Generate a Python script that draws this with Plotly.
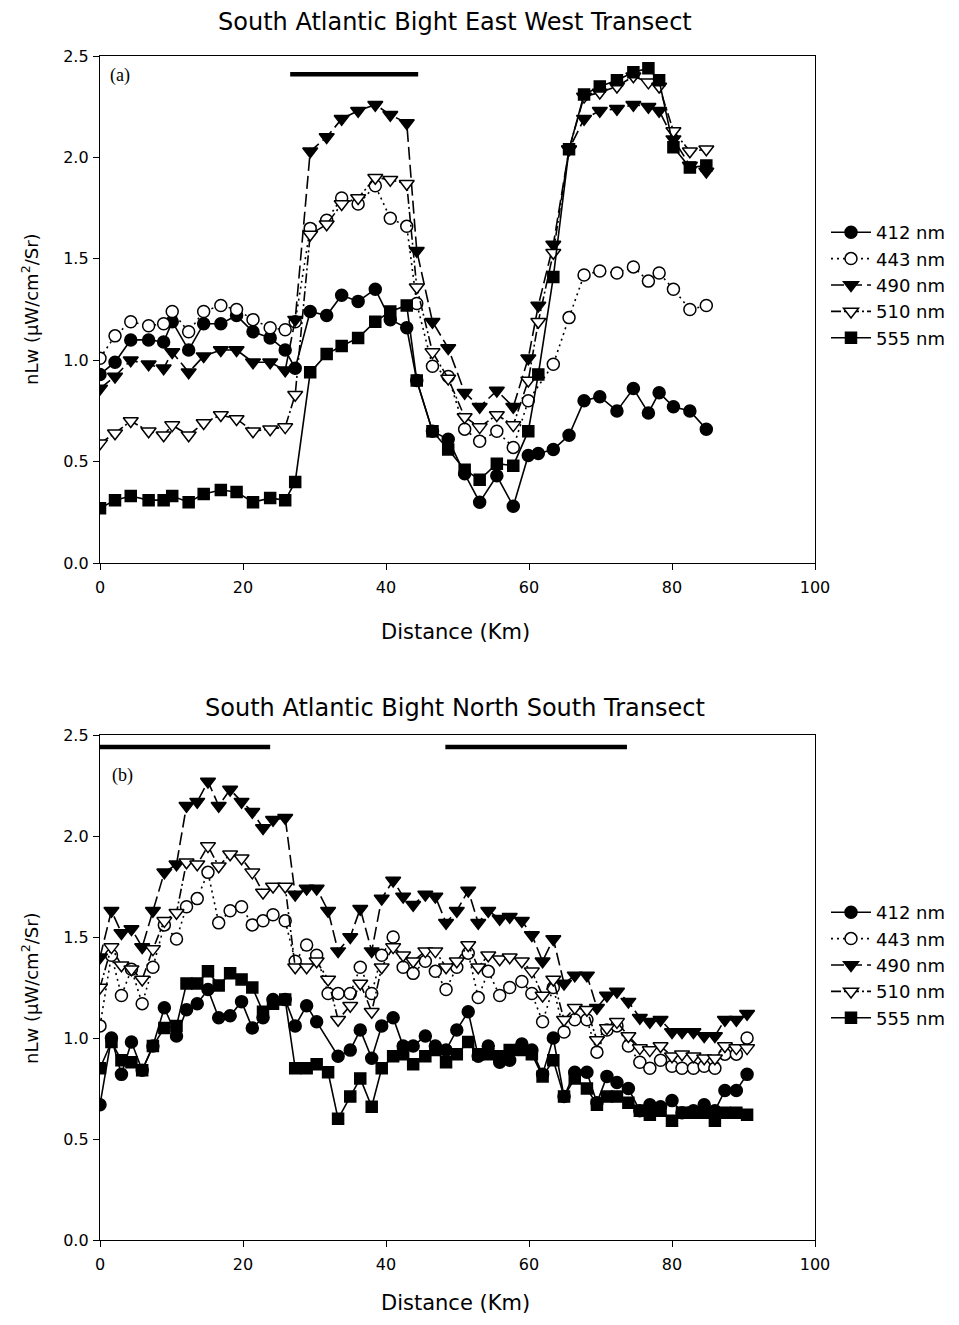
import plotly.graph_objects as go

# ---------------- data: top panel (East-West transect) ----------------
x_top = [0, 2.1, 4.3, 6.8, 8.9, 10.1, 12.4, 14.5, 16.9, 19.1, 21.4, 23.8, 25.9, 27.3,
         29.4, 31.7, 33.8, 36.1, 38.5, 40.6, 42.9,
         44.3, 46.5, 48.7, 51.0, 53.1, 55.5, 57.8,
         59.9, 61.3, 63.4, 65.6, 67.7, 69.9, 72.3, 74.6, 76.7, 78.2, 80.2, 82.5, 84.8]
top_412 = [0.93, 0.99, 1.10, 1.10, 1.09, 1.19, 1.05, 1.18, 1.18, 1.22, 1.14, 1.11, 1.05, 0.96,
           1.24, 1.22, 1.32, 1.29, 1.35, 1.20, 1.16,
           0.90, 0.65, 0.61, 0.44, 0.30, 0.43, 0.28,
           0.53, 0.54, 0.56, 0.63, 0.80, 0.82, 0.75, 0.86, 0.74, 0.84, 0.77, 0.75, 0.66]
top_443 = [1.01, 1.12, 1.19, 1.17, 1.18, 1.24, 1.14, 1.24, 1.27, 1.25, 1.20, 1.16, 1.15, 1.19,
           1.65, 1.69, 1.80, 1.77, 1.86, 1.70, 1.66,
           1.28, 0.97, 0.92, 0.66, 0.60, 0.65, 0.57,
           0.80, None, 0.98, 1.21, 1.42, 1.44, 1.43, 1.46, 1.39, 1.43, 1.35, 1.25, 1.27]
top_490 = [0.86, 0.92, 1.00, 0.98, 0.96, 1.04, 0.94, 1.02, 1.05, 1.05, 0.99, 0.99, 0.95, 1.20,
           2.03, 2.10, 2.19, 2.23, 2.26, 2.21, 2.17,
           1.54, 1.19, 1.06, 0.84, 0.77, 0.85, 0.77,
           1.01, 1.27, 1.57, 2.04, 2.19, 2.23, 2.24, 2.26, 2.25, 2.23, 2.09, 1.96, 1.93]
top_510 = [0.59, 0.64, 0.70, 0.65, 0.63, 0.68, 0.63, 0.69, 0.73, 0.71, 0.65, 0.66, 0.67, 0.83,
           1.62, 1.67, 1.77, 1.80, 1.90, 1.89, 1.87,
           1.36, 1.04, 0.91, 0.72, 0.67, 0.73, 0.68,
           0.90, 1.19, 1.53, 2.04, 2.30, 2.32, 2.35, 2.40, 2.37, 2.35, 2.13, 2.03, 2.04]
top_555 = [0.27, 0.31, 0.33, 0.31, 0.31, 0.33, 0.30, 0.34, 0.36, 0.35, 0.30, 0.32, 0.31, 0.40,
           0.94, 1.03, 1.07, 1.11, 1.19, 1.24, 1.27,
           0.90, 0.65, 0.56, 0.46, 0.41, 0.49, 0.48,
           0.65, 0.93, 1.41, 2.04, 2.31, 2.35, 2.38, 2.42, 2.44, 2.38, 2.05, 1.95, 1.96]

# ---------------- data: bottom panel (North-South transect) ----------------
x_bot = [0, 1.6, 3.0, 4.4, 5.9, 7.4, 9.0, 10.7, 12.1, 13.6,
         15.1, 16.6, 18.2, 19.8, 21.3, 22.8, 24.2, 25.9, 27.3, 28.9,
         30.3, 31.9, 33.3, 35.0, 36.4, 38.0, 39.4, 41.0, 42.4, 43.8,
         45.5, 46.9, 48.4, 49.9, 51.5, 52.9, 54.3, 55.9, 57.3, 59.0,
         60.4, 61.9, 63.4, 64.9, 66.4, 68.1, 69.5, 70.9, 72.3, 73.9,
         75.5, 76.9, 78.4, 80.0, 81.4, 83.0, 84.5, 86.0, 87.4, 89.0, 90.5]
bot_412 = [0.67, 1.00, 0.82, 0.98, 0.84, 0.96, 1.15, 1.01, 1.14, 1.17,
           1.24, 1.10, 1.11, 1.18, 1.05, 1.10, 1.19, 1.19, 1.06, 1.16,
           1.08, None, 0.91, 0.94, 1.04, 0.90, 1.06, 1.10, 0.96, 0.96,
           1.01, 0.96, 0.94, 1.04, 1.13, 0.91, 0.96, 0.88, 0.89, 0.97,
           0.94, 0.82, 1.00, 0.71, 0.83, 0.83, 0.68, 0.81, 0.78, 0.75,
           0.64, 0.67, 0.66, 0.69, 0.63, 0.64, 0.67, 0.64, 0.74, 0.74, 0.82]
bot_443 = [1.06, 1.41, 1.21, 1.34, 1.17, 1.35, 1.56, 1.49, 1.65, 1.69,
           1.82, 1.57, 1.63, 1.65, 1.56, 1.58, 1.61, 1.58, 1.38, 1.46,
           1.41, 1.22, 1.22, 1.22, 1.35, 1.22, 1.41, 1.50, 1.35, 1.32,
           1.38, 1.33, 1.24, 1.35, 1.42, 1.20, 1.33, 1.21, 1.25, 1.28,
           1.22, 1.08, 1.25, 1.03, 1.09, 1.09, 0.93, 1.04, 1.06, 0.96,
           0.88, 0.85, 0.89, 0.86, 0.85, 0.85, 0.86, 0.85, 0.92, 0.92, 1.00]
bot_490 = [1.40, 1.63, 1.52, 1.54, 1.45, 1.63, 1.82, 1.86, 2.15, 2.17,
           2.27, 2.15, 2.23, 2.17, 2.12, 2.04, 2.08, 2.09, 1.71, 1.74,
           1.74, 1.63, 1.43, 1.50, 1.64, 1.43, 1.69, 1.78, 1.70, 1.66,
           1.71, 1.70, 1.57, 1.63, 1.73, 1.57, 1.63, 1.59, 1.60, 1.58,
           1.51, 1.38, 1.49, 1.27, 1.31, 1.31, 1.15, 1.21, 1.23, 1.18,
           1.10, 1.08, 1.09, 1.03, 1.03, 1.03, 1.01, 1.01, 1.09, 1.09, 1.12]
bot_510 = [1.25, 1.45, 1.36, 1.34, 1.29, 1.44, 1.58, 1.62, 1.87, 1.86,
           1.95, 1.85, 1.91, 1.89, 1.82, 1.72, 1.75, 1.75, 1.35, 1.35,
           1.38, 1.29, 1.09, 1.16, 1.27, 1.13, 1.35, 1.45, 1.41, 1.38,
           1.43, 1.43, 1.35, 1.38, 1.46, 1.35, 1.41, 1.39, 1.40, 1.38,
           1.33, 1.21, 1.29, 1.09, 1.15, 1.14, 0.99, 1.05, 1.08, 1.01,
           0.95, 0.94, 0.96, 0.91, 0.92, 0.91, 0.90, 0.90, 0.96, 0.95, 0.95]
bot_555 = [0.85, 0.98, 0.89, 0.88, 0.84, 0.96, 1.05, 1.06, 1.27, 1.27,
           1.33, 1.26, 1.32, 1.29, 1.25, 1.13, 1.17, 1.19, 0.85, 0.85,
           0.87, 0.83, 0.60, 0.71, 0.80, 0.66, 0.85, 0.91, 0.92, 0.87,
           0.91, 0.94, 0.88, 0.92, 0.98, 0.92, 0.92, 0.91, 0.94, 0.94,
           0.92, 0.81, 0.89, 0.71, 0.80, 0.75, 0.67, 0.71, 0.71, 0.68,
           0.64, 0.62, 0.64, 0.59, 0.63, 0.63, 0.63, 0.59, 0.63, 0.63, 0.62]

# horizontal bars marking frontal zones (km ranges, level)
bar_top_ranges = [(26.6, 44.5)]
bar_top_level = 2.41
bar_bot_ranges = [(0.0, 23.8), (48.3, 73.7)]
bar_bot_level = 2.44

series_names = ["412 nm", "443 nm", "490 nm", "510 nm", "555 nm"]
x_ticks = [0, 20, 40, 60, 80, 100]
y_ticks = [0.0, 0.5, 1.0, 1.5, 2.0, 2.5]

titles = ["South Atlantic Bight East West Transect", "South Atlantic Bight North South Transect"]
x_title = "Distance (Km)"
y_title = "nLw (\u03bcW/cm<sup>2</sup>/Sr)"
panel_labels = ["(a)", "(b)"]

# ---------------- styles ----------------
styles = [
    dict(symbol="circle", fill="black", size=12, dash="solid"),
    dict(symbol="circle", fill="white", size=12, dash="2px,4px"),
    dict(symbol="triangle-down", fill="black", size=13, dash="13px,5px"),
    dict(symbol="triangle-down", fill="white", size=13, dash="10px,3px,2px,3px"),
    dict(symbol="square", fill="black", size=11, dash="solid"),
]

SANS = "DejaVu Sans, Verdana, sans-serif"

# page is 959x1325 with the browser's default 8px body margin
OFF = 8
W, H = 959 - 2 * OFF, 1325 - 2 * OFF


def px_x(p):
    return (p - OFF) / W


def px_y(p):
    return (H - (p - OFF)) / H


fig = go.Figure()

panels = [
    (x_top, [top_412, top_443, top_490, top_510, top_555], "x", "y", "legend"),
    (x_bot, [bot_412, bot_443, bot_490, bot_510, bot_555], "x2", "y2", "legend2"),
]
for xs, ys_list, xa, ya, lg in panels:
    for name, ys, st in zip(series_names, ys_list, styles):
        fig.add_trace(go.Scatter(
            x=xs, y=ys, name=name, mode="lines+markers", connectgaps=True,
            xaxis=xa, yaxis=ya, legend=lg,
            line=dict(color="black", width=1.6, dash=st["dash"]),
            marker=dict(symbol=st["symbol"], size=st["size"], color=st["fill"],
                        line=dict(color="black", width=1.5)),
        ))


def bar_trace(ranges, level, xa, ya):
    bx, by = [], []
    for a, b in ranges:
        bx += [a, b, None]
        by += [level, level, None]
    return go.Scatter(x=bx, y=by, mode="lines", xaxis=xa, yaxis=ya, showlegend=False,
                      line=dict(color="black", width=4.5), hoverinfo="skip")


fig.add_trace(bar_trace(bar_top_ranges, bar_top_level, "x", "y"))
fig.add_trace(bar_trace(bar_bot_ranges, bar_bot_level, "x2", "y2"))

axis_common = dict(showgrid=False, zeroline=False, showline=True, linecolor="black",
                   linewidth=1.3, mirror=True, ticks="outside", ticklen=6, tickwidth=1.3,
                   tickcolor="black", automargin=False,
                   tickfont=dict(family=SANS, size=16, color="black"))

xdom = [px_x(100), px_x(815)]
legend_font = dict(family=SANS, size=18, color="black")
fig.update_layout(
    width=W, height=H,
    margin=dict(l=0, r=0, t=0, b=0, autoexpand=False),
    paper_bgcolor="white", plot_bgcolor="white",
    xaxis=dict(domain=xdom, range=[0, 100], tickvals=x_ticks, anchor="y",
               ticklabelstandoff=4, **axis_common),
    yaxis=dict(domain=[px_y(563), px_y(56)], range=[0, 2.5], tickvals=y_ticks,
               tickformat=".1f", anchor="x", ticklabelstandoff=1, **axis_common),
    xaxis2=dict(domain=xdom, range=[0, 100], tickvals=x_ticks, anchor="y2",
                ticklabelstandoff=4, **axis_common),
    yaxis2=dict(domain=[px_y(1240), px_y(735)], range=[0, 2.5], tickvals=y_ticks,
                tickformat=".1f", anchor="x2", ticklabelstandoff=1, **axis_common),
    legend=dict(x=px_x(826), y=px_y(214), xanchor="left", yanchor="top",
                font=legend_font, itemwidth=40,
                bgcolor="rgba(0,0,0,0)", tracegroupgap=0),
    legend2=dict(x=px_x(826), y=px_y(894), xanchor="left", yanchor="top",
                 font=legend_font, itemwidth=40,
                 bgcolor="rgba(0,0,0,0)", tracegroupgap=0),
    showlegend=True,
)

ann = []
font_title = dict(family=SANS, size=24, color="black")
font_xaxis = dict(family=SANS, size=21, color="black")
font_yaxis = dict(family=SANS, size=18, color="black")
for t, yy in zip(titles, [22, 708]):
    ann.append(dict(text=t, x=px_x(455), y=px_y(yy), xref="paper", yref="paper",
                    showarrow=False, font=font_title, xanchor="center", yanchor="middle"))
for yy in [632, 1303]:
    ann.append(dict(text=x_title, x=px_x(455), y=px_y(yy), xref="paper", yref="paper",
                    showarrow=False, font=font_xaxis, xanchor="center", yanchor="middle"))
for yy in [309, 988]:
    ann.append(dict(text=y_title, x=px_x(30), y=px_y(yy), xref="paper", yref="paper",
                    showarrow=False, font=font_yaxis, textangle=-90,
                    xanchor="center", yanchor="middle"))
for lab, (xx, yy) in zip(panel_labels, [(108, 75), (110, 775)]):
    ann.append(dict(text=lab, x=px_x(xx), y=px_y(yy), xref="paper", yref="paper",
                    showarrow=False,
                    font=dict(family="Liberation Serif, Times New Roman, serif", size=18, color="black"),
                    xanchor="left", yanchor="middle"))
fig.update_layout(annotations=ann)

fig.write_html("out.html")
